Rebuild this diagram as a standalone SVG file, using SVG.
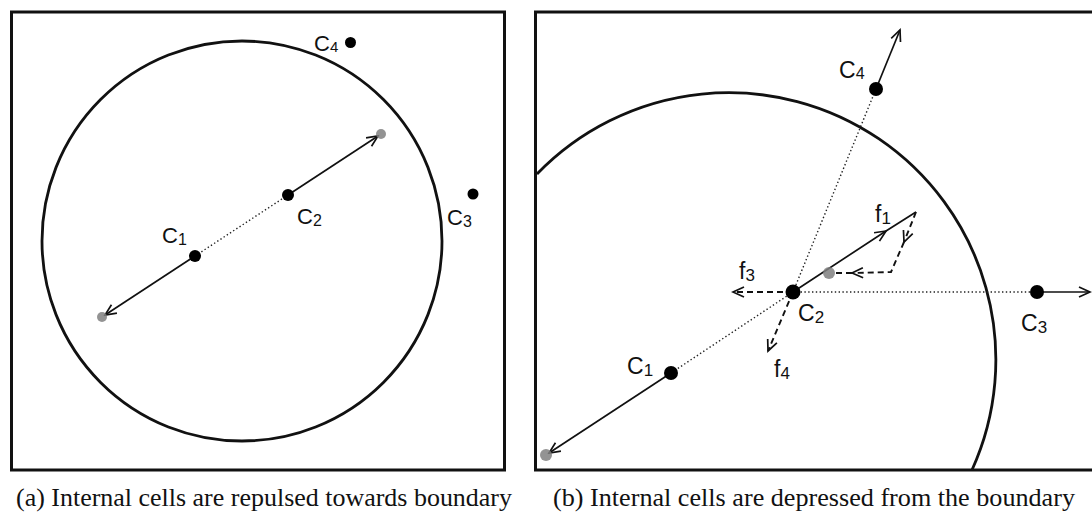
<svg xmlns="http://www.w3.org/2000/svg" width="1092" height="517" viewBox="0 0 1092 517">
<defs>
<style>
.frame{fill:none;stroke:#111;stroke-width:3}
.bound{fill:none;stroke:#111;stroke-width:2.8}
.arrow{fill:none;stroke:#111;stroke-width:1.7}
.dash{fill:none;stroke:#111;stroke-width:1.9;stroke-dasharray:6 4}
.dot{fill:none;stroke:#222;stroke-width:1.4;stroke-dasharray:1.4 2.4}
.cell{fill:#000}
.ghost{fill:#808080;opacity:0.85}
.lbl{font-family:"Liberation Sans",Arial,sans-serif;fill:#111}
.la{font-size:22px}
.lb{font-size:23px}
.cap{font-family:"Liberation Serif","Times New Roman",serif;font-size:26px;fill:#111}
</style>
<marker id="ah" viewBox="-13 -7 15 14" refX="0" refY="0" markerWidth="15" markerHeight="14" markerUnits="userSpaceOnUse" orient="auto">
<path d="M-11,-5 L0,0 L-11,5" fill="none" stroke="#111" stroke-width="1.7"/>
</marker>
</defs>
<rect width="1092" height="517" fill="#fff"/>

<!-- Panel (a) -->
<g id="panel-a">
<rect class="frame" x="11.5" y="12" width="493" height="458"/>
<circle id="boundary-a" class="bound" cx="242" cy="241" r="200"/>
<g id="connectors-a">
<line class="dot" x1="195" y1="256" x2="288" y2="195"/>
<line class="arrow" x1="288" y1="195" x2="378" y2="136" marker-end="url(#ah)"/>
<line class="arrow" x1="195" y1="256" x2="105" y2="315" marker-end="url(#ah)"/>
</g>
<g id="a-ghost1"><circle class="ghost" cx="381" cy="134" r="5"/></g>
<g id="a-ghost2"><circle class="ghost" cx="102" cy="317" r="5"/></g>
<g id="a-c1"><circle class="cell" cx="195" cy="256" r="6"/><text class="lbl la" x="162" y="243">C<tspan font-size="16" dy="2">1</tspan></text></g>
<g id="a-c2"><circle class="cell" cx="288" cy="195" r="6"/><text class="lbl la" x="297" y="224">C<tspan font-size="16" dy="2">2</tspan></text></g>
<g id="a-c3"><circle class="cell" cx="473" cy="194" r="5.5"/><text class="lbl la" x="447" y="225">C<tspan font-size="16" dy="2">3</tspan></text></g>
<g id="a-c4"><circle class="cell" cx="350.5" cy="42.5" r="5.5"/><text class="lbl la" x="314" y="51">C<tspan font-size="15" dy="1">4</tspan></text></g>
</g>

<!-- Panel (b) -->
<g id="panel-b">
<rect class="frame" x="535.5" y="12" width="600" height="458"/>
<path id="boundary-b" class="bound" d="M537,174 A267,267 0 0 1 972,470"/>
<g id="connectors-b">
<line class="dot" x1="793" y1="292" x2="876" y2="89"/>
<line class="dot" x1="793" y1="292" x2="1037" y2="292"/>
<line class="dot" x1="793" y1="292" x2="671" y2="373"/>
<line class="arrow" x1="876" y1="89" x2="900" y2="30" marker-end="url(#ah)"/>
<line class="arrow" x1="1037" y1="292" x2="1090" y2="292" marker-end="url(#ah)"/>
<line class="arrow" x1="671" y1="373" x2="549" y2="453" marker-end="url(#ah)"/>
<polyline class="arrow" points="793,292 886,231 916,212" marker-mid="url(#ah)"/>
<path class="dash" d="M916,212 L904,242" marker-end="url(#ah)"/>
<path class="dash" d="M904,242 L891,272 L852,273" marker-end="url(#ah)"/>
<path class="dash" d="M852,273 L835,273"/>
<path class="dash" d="M793,292 L733,292" marker-end="url(#ah)"/>
<path class="dash" d="M793,292 L768,351" marker-end="url(#ah)"/>
</g>
<g id="b-ghost1"><circle class="ghost" cx="829" cy="273" r="6"/></g>
<g id="b-ghost2"><circle class="ghost" cx="546" cy="455" r="6"/></g>
<g id="b-c1"><circle class="cell" cx="671" cy="373" r="7"/><text class="lbl lb" x="627" y="374">C<tspan font-size="17" dy="2">1</tspan></text></g>
<g id="b-c2"><circle class="cell" cx="793" cy="292" r="7.5"/><text class="lbl lb" x="798" y="321">C<tspan font-size="17" dy="2">2</tspan></text></g>
<g id="b-c3"><circle class="cell" cx="1037" cy="292" r="7"/><text class="lbl lb" x="1021" y="331">C<tspan font-size="17" dy="2">3</tspan></text></g>
<g id="b-c4"><circle class="cell" cx="876" cy="89" r="7"/><text class="lbl lb" x="839" y="78">C<tspan font-size="16" dy="1">4</tspan></text></g>
<g id="b-f1"><text class="lbl lb" x="875" y="222">f<tspan font-size="17" dy="2">1</tspan></text></g>
<g id="b-f3"><text class="lbl lb" x="739" y="279">f<tspan font-size="17" dy="2">3</tspan></text></g>
<g id="b-f4"><text class="lbl lb" x="774" y="377">f<tspan font-size="17" dy="2">4</tspan></text></g>
</g>

<text class="cap" x="16" y="506" textLength="496" lengthAdjust="spacingAndGlyphs">(a)  Internal cells are repulsed towards boundary</text>
<text class="cap" x="553" y="506" textLength="522" lengthAdjust="spacingAndGlyphs">(b)  Internal cells are depressed from the boundary</text>
</svg>
